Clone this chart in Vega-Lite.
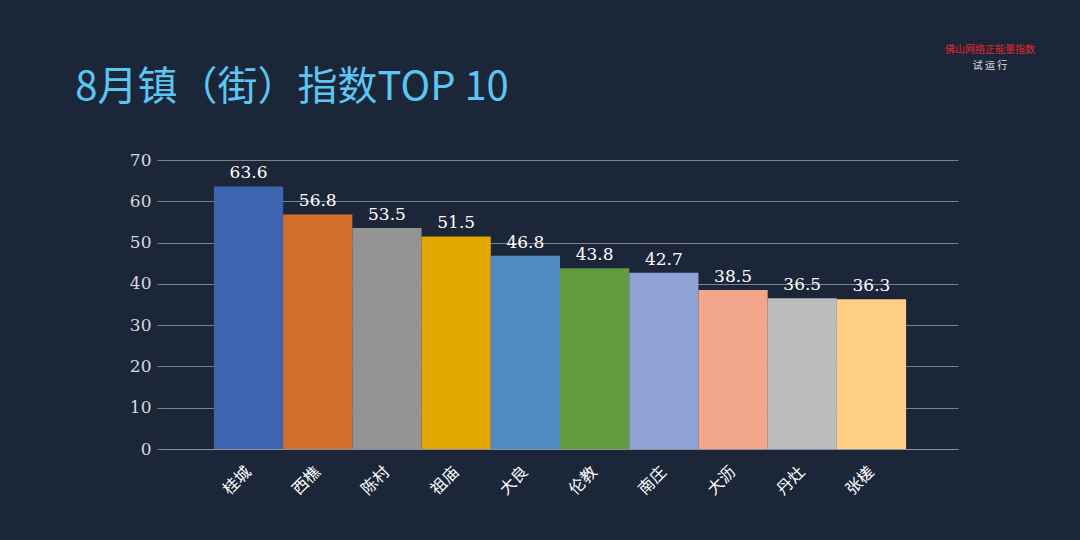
{
  "$schema": "https://vega.github.io/schema/vega-lite/v6.json",
  "autosize": "none",
  "width": 796,
  "height": 289,
  "padding": {"left": 162, "top": 160, "right": 122, "bottom": 91},
  "background": "#1c2639",
  "title": {
    "text": "8月镇（街）指数TOP 10",
    "anchor": "start",
    "dx": -54,
    "offset": -103,
    "baseline": "bottom",
    "fontSize": 40,
    "fontWeight": "normal",
    "font": "Noto Sans CJK SC",
    "color": "#5bc6f4"
  },
  "data": {
    "values": [
      {"town": "桂城", "value": 63.6},
      {"town": "西樵", "value": 56.8},
      {"town": "陈村", "value": 53.5},
      {"town": "祖庙", "value": 51.5},
      {"town": "大良", "value": 46.8},
      {"town": "伦教", "value": 43.8},
      {"town": "南庄", "value": 42.7},
      {"town": "大沥", "value": 38.5},
      {"town": "丹灶", "value": 36.5},
      {"town": "张槎", "value": 36.3}
    ]
  },
  "encoding": {
    "x": {
      "field": "town", "type": "nominal", "sort": null, "title": null,
      "scale": {"paddingInner": 0, "paddingOuter": 0.75},
      "axis": {"labelAngle": -45, "labelAlign": "right", "labelBaseline": "middle", "labelFontSize": 16, "labelFont": "Noto Sans CJK SC", "labelColor": "#ffffff", "labelPadding": 20, "ticks": false, "domainColor": "#8a8f99"}
    },
    "y": {
      "field": "value", "type": "quantitative", "title": null,
      "scale": {"domain": [0, 70]},
      "axis": {"tickCount": 7, "labelFontSize": 17, "labelFont": "DejaVu Serif", "labelColor": "#d8d8d8", "gridColor": "#7d838e", "domain": false, "ticks": true, "tickColor": "#7d838e", "tickSize": 5, "labelPadding": 6}
    }
  },
  "layer": [
    {
      "mark": {"type": "bar"},
      "encoding": {
        "color": {
          "field": "town", "type": "nominal", "sort": null, "legend": null,
          "scale": {"range": ["#3d64ae", "#d4702c", "#939393", "#e2a800", "#4f8bc1", "#629a3f", "#8ea2d6", "#f2a78a", "#bdbdbd", "#ffcf85"]}
        }
      }
    },
    {
      "mark": {"type": "text", "dy": -13, "fontSize": 17, "font": "DejaVu Serif", "color": "#ffffff"},
      "encoding": {"text": {"field": "value", "type": "quantitative", "format": ".1f"}}
    },
    {
      "data": {"values": [{"t": "佛山网络正能量指数", "c": "#e0262b", "o": 0}, {"t": "试 运 行", "c": "#e0e0e0", "o": 16}]},
      "mark": {"type": "text", "align": "center", "font": "Noto Sans CJK SC"},
      "encoding": {
        "x": {"value": {"expr": "width + 32"}},
        "y": {"value": -110},
        "yOffset": {"field": "o", "type": "quantitative", "scale": null},
        "text": {"field": "t"},
        "color": {"field": "c", "type": "nominal", "scale": null},
        "size": {"value": 10}
      }
    }
  ],
  "config": {"view": {"stroke": null}}
}
